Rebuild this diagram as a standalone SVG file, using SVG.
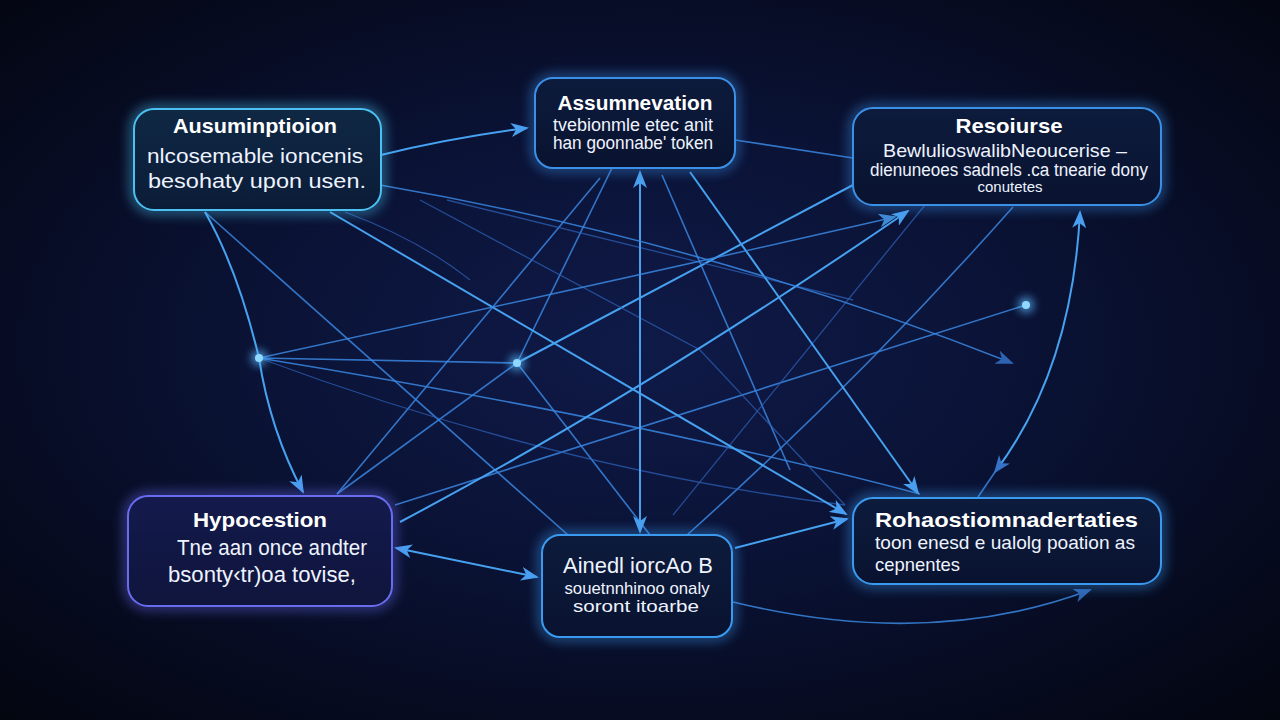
<svg xmlns="http://www.w3.org/2000/svg" width="1280" height="720" viewBox="0 0 1280 720">
<defs>
  <radialGradient id="bg" cx="0.5" cy="0.48" r="0.72">
    <stop offset="0" stop-color="#0f1a48"/>
    <stop offset="0.45" stop-color="#0a1234"/>
    <stop offset="1" stop-color="#03050f"/>
  </radialGradient>
  <linearGradient id="boxfill" x1="0" y1="0" x2="0" y2="1">
    <stop offset="0" stop-color="#0d1b3c"/>
    <stop offset="1" stop-color="#091330"/>
  </linearGradient>
  <linearGradient id="boxfillA" x1="0" y1="0" x2="0" y2="1">
    <stop offset="0" stop-color="#0f2844"/>
    <stop offset="1" stop-color="#0b1c38"/>
  </linearGradient>
  <linearGradient id="boxfillH" x1="0" y1="0" x2="0" y2="1">
    <stop offset="0" stop-color="#141a4c"/>
    <stop offset="1" stop-color="#0f153c"/>
  </linearGradient>
  <filter id="glow" x="-30%" y="-30%" width="160%" height="160%">
    <feGaussianBlur stdDeviation="6"/>
  </filter>
  <filter id="dglow" x="-200%" y="-200%" width="500%" height="500%">
    <feGaussianBlur stdDeviation="4"/>
  </filter>
  <marker id="ah" viewBox="0 0 18 14" refX="16" refY="7" markerWidth="18" markerHeight="14" markerUnits="userSpaceOnUse" orient="auto-start-reverse">
    <path d="M0,0 L18,7 L0,14 L5,7 z" fill="#4a9ff0"/>
  </marker>
  <marker id="ahd" viewBox="0 0 18 14" refX="16" refY="7" markerWidth="18" markerHeight="14" markerUnits="userSpaceOnUse" orient="auto-start-reverse">
    <path d="M0,0 L18,7 L0,14 L5,7 z" fill="#3572c8"/>
  </marker>
  <style>
    .b { fill: none; stroke: #46a2f0; stroke-width: 2; }
    .m { fill: none; stroke: #3a86e0; stroke-width: 1.6; opacity: 0.85; }
    .f { fill: none; stroke: #2f64bc; stroke-width: 1.3; opacity: 0.7; }
    .t { font-family: "Liberation Sans", Arial, sans-serif; font-weight: bold; fill: #ffffff; }
    .s { font-family: "Liberation Sans", Arial, sans-serif; fill: #eef3ff; }
    .halo { fill: none; stroke-width: 8; opacity: 0.55; filter: url(#glow); }
  </style>
</defs>

<rect width="1280" height="720" fill="url(#bg)"/>

<g id="connectors">
  <path class="m" d="M259,358 L517,363"/>
  <path class="m" d="M259,358 Q640,420 920,494"/>
  <path class="m" d="M205,212 L568,535"/>
  <path class="m" d="M337,494 L600,178"/>
  <path class="m" d="M517,363 L612,168"/>
  <path class="m" d="M517,363 L650,535"/>
  <path class="m" d="M517,363 L337,494"/>
  <path class="b" d="M517,363 L853,185"/>
  <path class="m" d="M1026,305 L395,505"/>
  <path class="m" d="M662,175 L790,470"/>
  <path class="f" d="M925,205 L673,515"/>
  <path class="m" d="M1013,207 Q860,380 687,535"/>
  <path class="m" d="M735,140 L853,158"/>
  <path class="f" d="M447,200 L853,300"/>
  <path class="f" d="M345,212 Q420,240 470,280"/>
  <path class="f" d="M420,200 L700,350 L845,505"/>
  <path class="f" d="M259,358 Q560,470 845,505"/>

  <path class="b" d="M381,155 Q450,138 527,128" marker-end="url(#ah)"/>
  <path class="b" d="M205,212 Q238,270 259,358 Q270,430 303,492" marker-end="url(#ah)"/>
  <path class="b" d="M640,172 L640,532" marker-start="url(#ah)" marker-end="url(#ah)"/>
  <path class="b" d="M396,548 L537,577" marker-start="url(#ah)" marker-end="url(#ah)"/>
  <path class="b" d="M735,548 L847,519" marker-end="url(#ah)"/>
  <path class="b" d="M330,212 L846,514" marker-end="url(#ah)"/>
  <path class="b" d="M690,172 L918,493" marker-end="url(#ah)"/>
  <path class="b" d="M400,522 Q640,395 908,211" marker-end="url(#ah)"/>
  <path class="m" d="M380,185 Q700,240 1012,363" marker-end="url(#ahd)"/>
  <path class="m" d="M259,358 Q620,280 895,217" marker-end="url(#ah)"/>
  <path class="b" d="M995,472 Q1072,370 1080,212" marker-start="url(#ahd)" marker-end="url(#ah)"/>
  <path class="m" d="M995,472 L978,497"/>
  <path class="m" d="M733,602 Q930,650 1090,590" marker-end="url(#ahd)"/>

  <circle cx="259" cy="358" r="8" fill="#5ab8ff" opacity="0.7" filter="url(#dglow)"/>
  <circle cx="259" cy="358" r="4" fill="#8fd8ff"/>
  <circle cx="517" cy="363" r="8" fill="#5ab8ff" opacity="0.7" filter="url(#dglow)"/>
  <circle cx="517" cy="363" r="4" fill="#8fd8ff"/>
  <circle cx="1026" cy="305" r="8" fill="#5ab8ff" opacity="0.7" filter="url(#dglow)"/>
  <circle cx="1026" cy="305" r="4" fill="#8fd8ff"/>
</g>

<g id="node-assumption">
  <rect class="halo" x="134" y="109" width="247" height="101" rx="20" stroke="#4cc6f4"/>
  <rect x="134" y="109" width="247" height="101" rx="20" fill="url(#boxfillA)" stroke="#4cc0f0" stroke-width="2"/>
  <text class="t" x="255" y="133" font-size="20" text-anchor="middle" textLength="164" lengthAdjust="spacingAndGlyphs">Ausuminptioion</text>
  <text class="s" x="255" y="163" font-size="21" text-anchor="middle" textLength="216" lengthAdjust="spacingAndGlyphs">nlcosemable ioncenis</text>
  <text class="s" x="257" y="188" font-size="21" text-anchor="middle" textLength="218" lengthAdjust="spacingAndGlyphs">besohaty upon usen.</text>
</g>

<g id="node-assumnevation">
  <rect class="halo" x="535" y="78" width="200" height="90" rx="18" stroke="#3a90e8"/>
  <rect x="535" y="78" width="200" height="90" rx="18" fill="url(#boxfill)" stroke="#3a90e6" stroke-width="2"/>
  <text class="t" x="635" y="110" font-size="20" text-anchor="middle" textLength="155" lengthAdjust="spacingAndGlyphs">Assumnevation</text>
  <text class="s" x="633" y="131" font-size="18" text-anchor="middle" textLength="160" lengthAdjust="spacingAndGlyphs">tvebionmle etec anit</text>
  <text class="s" x="633" y="149" font-size="18" text-anchor="middle" textLength="160" lengthAdjust="spacingAndGlyphs">han goonnabe' token</text>
</g>

<g id="node-resoiurse">
  <rect class="halo" x="853" y="108" width="308" height="97" rx="20" stroke="#3a90e8"/>
  <rect x="853" y="108" width="308" height="97" rx="20" fill="url(#boxfill)" stroke="#3a90e6" stroke-width="2"/>
  <text class="t" x="1009" y="133" font-size="21" text-anchor="middle" textLength="107" lengthAdjust="spacingAndGlyphs">Resoiurse</text>
  <text class="s" x="1005" y="157" font-size="19" text-anchor="middle" textLength="244" lengthAdjust="spacingAndGlyphs">BewlulioswalibNeoucerise –</text>
  <text class="s" x="1009" y="176" font-size="18" text-anchor="middle" textLength="278" lengthAdjust="spacingAndGlyphs">dienuneoes sadnels .ca tnearie dony</text>
  <text class="s" x="1010" y="192" font-size="14" text-anchor="middle" textLength="65" lengthAdjust="spacingAndGlyphs">conutetes</text>
</g>

<g id="node-hypocestion">
  <rect class="halo" x="128" y="496" width="264" height="110" rx="20" stroke="#6a6cf0"/>
  <rect x="128" y="496" width="264" height="110" rx="20" fill="url(#boxfillH)" stroke="#6a6cf0" stroke-width="2"/>
  <text class="t" x="260" y="527" font-size="21" text-anchor="middle" textLength="134" lengthAdjust="spacingAndGlyphs">Hypocestion</text>
  <text class="s" x="272" y="555" font-size="22" text-anchor="middle" textLength="190" lengthAdjust="spacingAndGlyphs">Tne aan once andter</text>
  <text class="s" x="262" y="582" font-size="22" text-anchor="middle" textLength="188" lengthAdjust="spacingAndGlyphs">bsonty‹tr)oa tovise,</text>
</g>

<g id="node-ainedl">
  <rect class="halo" x="542" y="535" width="190" height="102" rx="18" stroke="#3a9af0"/>
  <rect x="542" y="535" width="190" height="102" rx="18" fill="url(#boxfill)" stroke="#3a9af0" stroke-width="2"/>
  <text class="s" x="638" y="573" font-size="22" text-anchor="middle" textLength="150" lengthAdjust="spacingAndGlyphs" fill="#ffffff">Ainedl iorcAo B</text>
  <text class="s" x="637" y="594" font-size="17" text-anchor="middle" textLength="145" lengthAdjust="spacingAndGlyphs">souetnnhinoo onaly</text>
  <text class="s" x="636" y="612" font-size="17" text-anchor="middle" textLength="126" lengthAdjust="spacingAndGlyphs">soront itoarbe</text>
</g>

<g id="node-rohaostiom">
  <rect class="halo" x="853" y="498" width="308" height="86" rx="20" stroke="#3a9af0"/>
  <rect x="853" y="498" width="308" height="86" rx="20" fill="url(#boxfill)" stroke="#3a9af0" stroke-width="2"/>
  <text class="t" x="875" y="527" font-size="21" textLength="263" lengthAdjust="spacingAndGlyphs">Rohaostiomnadertaties</text>
  <text class="s" x="875" y="549" font-size="19" textLength="260" lengthAdjust="spacingAndGlyphs">toon enesd e ualolg poation as</text>
  <text class="s" x="875" y="571" font-size="19" textLength="85" lengthAdjust="spacingAndGlyphs">cepnentes</text>
</g>
</svg>
